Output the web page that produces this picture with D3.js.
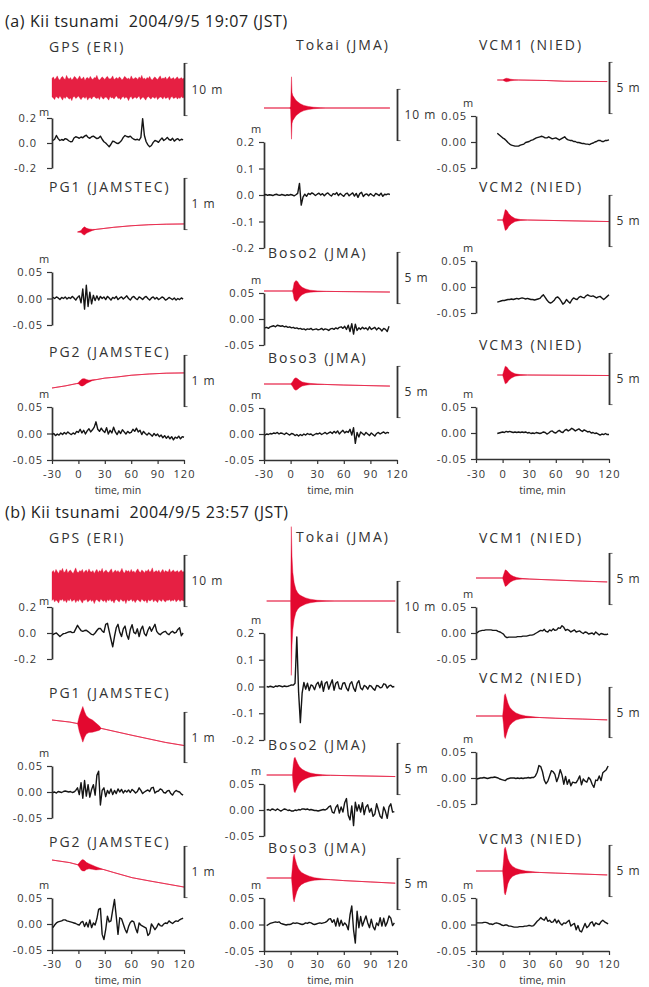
<!DOCTYPE html>
<html><head><meta charset="utf-8">
<script src="https://cdn.jsdelivr.net/npm/d3@7"></script>
<style>
body{margin:0;background:#fff}
svg{display:block}
text{font-family:"Open Sans",sans-serif;fill:#333}
.sec{font-size:16px;letter-spacing:0.6px;fill:#222;white-space:pre}
.ttl{font-size:14px;letter-spacing:2px}
.unit{font-size:11px}
.barlab{font-size:12px;letter-spacing:1px}
.xlab{font-size:10.5px}
.tick text{font-size:11px;letter-spacing:1px;fill:#333}
</style></head>
<body><svg id="c" width="649" height="987"></svg>
<script>
// ---------------- DATA ----------------
const sectionTitles = ["(a) Kii tsunami  2004/9/5 19:07 (JST)", "(b) Kii tsunami  2004/9/5 23:57 (JST)"];
const stationNames = ["GPS (ERI)","PG1 (JAMSTEC)","PG2 (JAMSTEC)","Tokai (JMA)","Boso2 (JMA)","Boso3 (JMA)","VCM1 (NIED)","VCM2 (NIED)","VCM3 (NIED)"];
const barValues = [10,1,1,10,5,5,5,5,5];          // scale-bar size, m
const barLabels = ["10 m","1 m","1 m","10 m","5 m","5 m","5 m","5 m","5 m"];
const timeTicks = [-30,0,30,60,90,120];
const gpsTicks = [-0.2,0,0.2];
const tokaiTicks = [-0.2,-0.1,0,0.1,0.2];
const smallTicks = [-0.05,0,0.05];
const sampleStep = 2;                                // min, black traces
const aBlackStart = [-29,-29,-30,-30,-29,-29,-6,-6,-6];
const bBlackStart = [-29,-29,-29,-27,-27,-27,-29,-29,-29];

// black (filtered) traces, mm
const aGps = [20,30,60,35,20,28,22,35,30,18,10,12,40,50,45,38,48,42,55,62,45,38,50,55,45,35,40,55,30,10,0,-15,-30,-10,15,10,0,-5,5,20,45,60,52,48,55,40,30,25,30,22,45,195,60,10,-15,-30,-20,5,20,15,5,25,40,20,30,45,28,22,38,15,28,35,20,30,25];
const aPg1 = [2,0,3,1,-2,2,0,3,-1,2,0,4,1,-3,2,5,-8,18,-20,25,-15,12,-10,6,-4,5,-3,4,0,3,-2,4,1,-3,2,0,4,-2,1,3,-1,2,5,0,-3,2,4,0,-2,3,1,-2,2,4,0,-3,1,3,-1,2,-2,0,3,1,-3,-1,2,0,-2,1,-3,0,-2,1,-1];
const aPg2 = [-2,0,-4,-1,-3,1,-2,2,-1,3,0,-2,1,-1,4,2,8,1,6,-1,5,9,3,7,12,22,8,4,10,5,2,11,-1,6,1,12,3,-2,5,0,7,3,-1,4,1,2,8,4,10,3,6,-2,4,0,-3,1,-2,-5,0,-4,-1,-6,-3,-8,-4,-9,-5,-10,-6,-12,-7,-9,-5,-10,-6,-7];
const aTokai = [0,2,-1,1,0,-2,1,3,0,-1,2,0,-2,1,-1,2,0,-3,1,6,44,-38,-8,3,-5,6,2,8,4,-2,3,7,0,5,-3,4,8,1,-4,5,2,9,-2,6,0,-5,4,7,-3,3,8,-4,6,-9,5,10,-6,2,4,-3,5,0,-4,6,2,-2,7,-5,3,1,4,2];
const aBoso2 = [-17,-16,-18,-15,-14,-13,-15,-12,-13,-14,-13,-15,-14,-16,-15,-17,-16,-18,-17,-19,-18,-20,-19,-21,-19,-20,-18,-21,-20,-19,-21,-20,-18,-21,-19,-20,-22,-19,-18,-20,-17,-19,-16,-15,-18,-14,-20,-12,-24,-9,-29,-10,-22,-17,-20,-16,-19,-17,-21,-15,-20,-18,-16,-21,-17,-19,-23,-18,-20,-24,-14];
const aBoso3 = [-2,0,-1,1,0,2,1,3,0,2,1,-1,2,0,-2,1,0,-3,-1,-4,-1,-3,0,-2,1,-1,0,-3,-1,1,0,2,-1,1,3,0,2,4,1,5,2,6,0,4,7,2,5,3,9,-2,12,-18,3,-6,4,1,-2,3,0,-3,2,-1,-4,1,3,0,2,4,1,3,2];
const aVcm1 = [17,14,11,8,6,3,-1,-4,-6,-7,-8,-8,-8,-6,-5,-4,-1,0,1,3,4,6,8,9,10,11,10,8,8,10,8,6,7,8,6,4,6,8,10,6,4,3,3,1,1,-1,-1,-2,-3,-3,-4,-4,-5,-3,-2,0,1,3,3,1,1,3,3,4];
const aVcm2 = [-29,-28,-27,-26,-26,-25,-24,-24,-23,-24,-23,-22,-23,-22,-21,-22,-23,-22,-23,-24,-24,-25,-24,-23,-22,-18,-15,-20,-25,-29,-31,-29,-26,-21,-19,-22,-27,-33,-30,-24,-28,-31,-25,-21,-23,-24,-20,-18,-20,-21,-17,-15,-17,-18,-17,-19,-21,-19,-18,-21,-24,-21,-18,-15];
const aVcm3 = [-1,0,1,2,1,3,2,3,2,1,2,1,2,1,2,1,2,0,1,-1,0,-1,1,0,-1,0,2,1,-2,0,3,4,1,0,3,5,2,1,5,7,4,6,9,7,4,6,8,5,3,6,4,2,3,0,1,-1,0,-2,-4,-2,-3,-1,-3,-3];
const bGps = [-13,-5,0,-13,-27,-16,-5,-3,3,8,11,3,5,32,59,37,19,13,19,21,11,0,-11,-13,0,19,35,35,16,5,67,75,13,-48,-107,-27,40,67,5,-27,32,53,-13,-48,27,64,5,-5,32,-27,27,53,-5,-21,21,48,13,40,67,13,-5,-13,0,8,13,-5,-13,5,13,0,5,27,40,-21,0];
const bPg1 = [-1,0,-2,1,0,-1,1,2,1,0,1,-1,0,3,8,-5,18,-12,22,-8,14,-10,5,14,-6,32,40,-25,3,8,-9,3,-3,6,-5,3,-3,6,0,5,-2,3,0,4,-1,5,2,-2,1,8,3,-3,0,2,4,1,8,9,-2,1,2,6,4,-1,-2,2,3,-3,-6,0,3,1,0,-4,-6];
const bPg2 = [-7,-2,2,4,5,6,8,8,6,5,4,3,2,1,-1,-2,3,5,-5,3,-6,8,-7,2,-2,10,28,30,-20,-30,-11,15,4,6,27,47,15,-20,12,10,0,-10,-17,-5,3,6,4,-8,-17,2,-2,-4,-6,-8,-22,-18,0,-5,-11,-6,1,-3,-4,0,2,1,6,3,1,4,6,5,8,10,11];
const bTokai = [0,-2,1,-1,-3,2,0,3,1,-1,2,0,1,3,6,5,12,185,-20,-135,-25,15,-10,12,-15,6,2,-12,8,16,-5,20,-18,12,18,-10,8,25,-14,12,18,-8,-10,12,14,-6,-16,10,18,-6,-18,12,22,-6,-12,4,0,-10,4,1,-8,-14,4,2,-5,-3,10,8,-6,2,5,-2,0];
const bBoso2 = [0,1,-1,2,1,-1,2,0,-2,0,2,1,-1,0,-2,-2,0,-1,1,0,2,2,1,2,0,1,0,-1,-1,-2,-1,0,1,0,2,6,8,-4,-6,5,10,-6,6,-4,14,22,-10,-19,8,-30,15,-2,10,-4,14,-9,6,10,-4,3,-12,-8,12,0,-12,-16,6,-3,-16,6,12,-4,-3];
const bBoso3 = [-2,0,2,3,4,5,4,5,2,1,0,-1,0,0,1,3,2,3,2,1,0,1,3,2,4,3,1,0,1,2,3,2,3,4,6,10,11,4,9,-3,12,-3,8,-2,3,-1,-10,18,35,-10,-35,25,-6,15,-3,7,16,3,-6,10,-4,-10,3,-2,13,-3,12,-3,4,16,12,-2,3];
const bVcm1 = [0,3,4,5,5,6,6,6,6,5,5,5,3,2,0,-2,-7,-9,-8,-8,-8,-8,-8,-7,-7,-7,-6,-6,-6,-5,-4,-4,-3,-1,1,3,5,4,7,3,2,6,4,8,5,6,10,9,14,11,5,7,5,2,4,6,2,3,4,1,-1,2,1,-2,-1,0,-3,2,-1,-4,-1,-2,-3,-3,-2];
const bVcm2 = [-2,-1,0,0,1,0,-1,0,1,1,2,1,0,-2,-3,-4,-5,-2,-1,0,0,0,-1,0,-1,0,-1,0,0,1,0,1,1,4,11,24,22,12,-4,-11,-6,4,14,12,7,-7,2,16,6,-12,3,-12,-3,-15,-8,-9,-9,-3,4,-13,-2,-6,-8,1,-3,-12,-18,-4,-5,4,-5,10,13,16,23];
const bVcm3 = [3,3,3,3,4,4,3,1,1,0,2,3,2,1,-1,-2,-1,-1,-3,-3,-4,-5,-5,-5,-4,-4,-4,-3,-3,-2,-2,-3,-2,2,6,9,13,10,8,14,6,8,4,5,10,3,8,2,-1,3,2,5,8,-3,0,2,-10,-2,-12,-14,-6,2,-6,-3,3,5,-3,3,1,0,5,8,5,3,1];

// red (raw) traces: GPS noise band (upper / lower excursion, m, every 1.5 min from -30)
const gpsBandStep = 1.5;
const aGpsUp = [1.8,2.1,1.6,1.9,2.3,1.7,1.5,2.0,2.2,1.8,1.6,2.4,1.9,1.7,2.0,1.5,1.8,2.2,2.0,1.6,1.9,2.3,1.7,1.8,2.1,1.4,1.9,2.0,1.7,2.2,1.8,1.6,2.0,1.9,2.4,1.7,1.5,1.8,2.1,1.9,1.6,2.0,2.2,1.8,1.7,1.9,2.3,1.6,1.8,2.0,1.7,2.1,1.9,1.5,1.8,2.2,2.0,1.7,1.9,1.6,2.3,1.8,1.7,2.0,1.9,1.6,2.1,1.8,2.4,1.7,1.9,1.6,2.0,1.8,2.2,1.7,1.5,1.9,2.1,1.8,1.6,2.0,2.3,1.7,1.9,1.8,2.1,1.6,1.9,2.2,1.7,1.8,2.0,1.6,1.9,2.1,1.7,1.8,2.0,1.7,1.9];
const aGpsLo = [1.7,1.9,2.2,1.6,1.8,2.0,1.5,1.9,2.3,1.7,2.0,1.6,1.8,2.1,1.9,2.4,1.7,1.6,2.0,1.8,1.5,1.9,2.2,1.8,1.7,2.0,1.6,2.3,1.9,1.8,2.1,1.7,1.6,1.9,2.0,1.8,2.2,1.5,1.9,2.1,1.8,1.7,2.0,2.3,1.6,1.9,1.8,2.1,1.7,1.5,2.0,1.9,2.2,1.8,1.6,2.0,1.7,1.9,2.4,1.8,1.6,2.1,1.9,1.7,2.0,1.8,1.5,2.2,1.9,1.7,2.0,2.3,1.8,1.6,1.9,2.1,1.7,1.8,2.0,1.6,2.2,1.9,1.7,1.8,2.1,1.6,2.0,1.9,1.7,2.3,1.8,1.6,2.0,1.9,1.7,2.1,1.8,2.0,1.6,1.9,1.8];
const bGpsUp = [2.7,3.0,2.5,3.2,2.8,2.4,3.1,2.9,3.4,2.6,2.8,3.3,2.5,2.9,3.1,2.7,2.4,3.0,3.5,2.7,2.6,3.0,2.8,3.2,2.5,2.9,3.1,2.6,3.3,2.8,2.7,3.0,2.4,2.9,3.2,2.6,3.0,2.8,3.4,2.5,2.9,3.1,2.7,2.6,3.0,3.3,2.5,2.8,3.1,2.7,3.0,2.6,2.9,3.4,2.7,2.5,3.1,2.8,3.0,2.6,3.2,2.7,2.9,2.5,3.0,3.3,2.8,2.6,3.1,2.9,2.5,3.0,2.8,3.2,2.7,2.9,3.5,2.6,2.8,3.0,2.7,3.1,2.5,2.9,3.2,2.6,3.0,2.8,2.7,3.3,2.6,2.9,3.1,2.7,2.8,3.0,2.6,2.9,3.1,2.7,2.8];
const bGpsLo = [2.8,2.5,3.1,2.7,2.9,3.3,2.6,2.8,2.5,3.0,2.7,3.2,2.6,2.9,2.4,3.0,2.8,2.6,3.2,2.7,3.0,2.5,2.9,3.3,2.7,2.8,2.5,3.1,2.9,2.6,3.0,2.7,3.4,2.8,2.6,2.9,3.1,2.5,2.8,3.0,2.7,3.2,2.6,2.9,2.5,3.0,2.8,3.3,2.7,2.6,2.9,3.1,2.5,2.8,3.0,2.7,3.4,2.6,2.9,2.8,2.5,3.0,2.7,3.2,2.8,2.6,2.9,3.1,2.5,2.8,3.0,2.7,3.3,2.6,2.9,2.8,2.5,3.1,2.7,2.9,3.2,2.6,2.8,3.0,2.5,2.9,3.1,2.7,2.8,2.6,3.0,2.7,2.9,2.5,3.1,2.8,2.6,3.0,2.7,2.8,2.9];
// other red traces: time (min), centre level (m), half envelope (m)
const aPg1T = [-1,3,5,7,9,12,16,20,40,60,80,100,120];
const aPg1C = [0,0.01,0.015,0.02,0.025,0.03,0.04,0.05,0.09,0.12,0.14,0.15,0.155];
const aPg1A = [0,0.02,0.06,0.08,0.05,0.03,0.01,0,0,0,0,0,0];
const aPg2T = [-30,-15,-2,0,1,3,5,7,9,12,16,20,30,43,60,81,100,120];
const aPg2C = [0,0.04,0.085,0.09,0.095,0.1,0.11,0.12,0.125,0.13,0.15,0.16,0.19,0.21,0.245,0.27,0.285,0.29];
const aPg2A = [0,0,0,0.01,0.03,0.06,0.07,0.06,0.04,0.02,0.008,0,0,0,0,0,0,0];
const aTokaiT = [-30,-1,0,1,1.6,2.5,4,6,8,11,15,20,26,34,40,112];
const aTokaiC = [0,0,0,0,0,0,0,0,0,0,0,0,0,0,0,0];
const aTokaiA = [0,0,0.3,6.0,3.0,2.4,2.0,1.5,1.2,0.8,0.5,0.3,0.15,0.05,0,0];
const aBoso2T = [-30,2,3,4,6,8,10,13,17,22,30,40,112];
const aBoso2C = [0,0,0,0,0,0,0,0,0,-0.02,-0.03,-0.04,-0.1];
const aBoso2A = [0,0,0.3,0.8,1.0,0.9,0.6,0.35,0.2,0.1,0.04,0,0];
const aBoso3T = [-30,0,2,4,6,8,10,13,17,22,30,38,60,112];
const aBoso3C = [0,0,0,0,0,0,0,0,0,0,-0.02,-0.04,-0.1,-0.2];
const aBoso3A = [0,0,0.2,0.5,0.6,0.5,0.35,0.2,0.12,0.06,0.02,0,0,0];
const aVcm1T = [-6,0,2,4,6,9,13,18,50,70,118];
const aVcm1C = [0,0,0,0,0,0,0,0,-0.05,-0.12,-0.15];
const aVcm1A = [0,0,0.1,0.17,0.15,0.08,0.03,0,0,0,0];
const aVcm2T = [-6,0,1,3,5,7,10,14,20,28,120];
const aVcm2C = [0,0,0,0,0,0,0,0,0,0,-0.15];
const aVcm2A = [0,0,0.3,1.0,0.9,0.6,0.35,0.15,0.05,0,0];
const aVcm3T = [-6,0,1,3,5,7,10,14,20,28,120];
const aVcm3C = [0,0,0,0,0,0,0,0,0,0,-0.05];
const aVcm3A = [0,0,0.3,0.85,0.75,0.5,0.3,0.12,0.04,0,0];
const bPg1T = [-30,-10,-1,1,3,5,7,9,12,16,20,24,26,61,99,120];
const bPg1C = [0,-0.04,-0.07,-0.075,-0.08,-0.085,-0.09,-0.095,-0.105,-0.12,-0.14,-0.16,-0.165,-0.30,-0.44,-0.5];
const bPg1A = [0,0,0,0.15,0.25,0.35,0.25,0.18,0.14,0.12,0.08,0.04,0,0,0,0];
const bPg2T = [-30,-10,-1,1,3,5,7,9,12,16,20,24,28,40,61,80,100,120];
const bPg2C = [0,-0.05,-0.09,-0.095,-0.1,-0.1,-0.11,-0.115,-0.12,-0.14,-0.16,-0.17,-0.18,-0.24,-0.34,-0.4,-0.46,-0.52];
const bPg2A = [0,0,0,0.04,0.09,0.11,0.1,0.07,0.05,0.04,0.03,0.015,0,0,0,0,0,0];
const bTokaiT = [-27,0,0.8,1.6,2.5,4,6,8,10,13,17,22,30,40,50,118];
const bTokaiC = [0,0,0,0,0,0,0,0,0,0,0,0,0,0,0,0];
const bTokaiA = [0,0,14.3,8.5,5.5,3.5,2.2,1.6,1.2,0.9,0.6,0.35,0.15,0.05,0,0];
const bBoso2T = [-27,2,3,4,5,6,8,10,13,17,22,28,36,45,118];
const bBoso2C = [0,0,0,0,0,0,0,0,0,0,0,-0.01,-0.02,-0.03,-0.15];
const bBoso2A = [0,0,1.0,1.6,1.7,1.5,1.1,0.8,0.55,0.35,0.2,0.1,0.04,0,0];
const bBoso3T = [-27,1,2,3,4,5,7,9,12,16,21,27,35,45,60,90,118];
const bBoso3C = [0,0,0,-0.01,-0.01,-0.02,-0.02,-0.03,-0.04,-0.05,-0.07,-0.09,-0.12,-0.16,-0.25,-0.38,-0.5];
const bBoso3A = [0,0,1.0,2.0,2.3,1.9,1.3,0.9,0.6,0.4,0.25,0.12,0.05,0,0,0,0];
const bVcm1T = [-30,0,1,3,5,7,9,12,16,22,30,60,90,118];
const bVcm1C = [0,0,0,-0.01,-0.01,-0.02,-0.03,-0.04,-0.05,-0.07,-0.1,-0.2,-0.3,-0.38];
const bVcm1A = [0,0,0.3,0.8,0.7,0.5,0.35,0.2,0.1,0.03,0,0,0,0];
const bVcm2T = [-30,0,1,2,3,4,6,8,11,15,20,26,34,42,60,90,118];
const bVcm2C = [0,0,0,0,-0.01,-0.01,-0.02,-0.03,-0.04,-0.05,-0.07,-0.09,-0.12,-0.15,-0.22,-0.3,-0.38];
const bVcm2A = [0,0,0.8,2.0,2.2,1.9,1.3,0.9,0.6,0.35,0.2,0.1,0.04,0,0,0,0];
const bVcm3T = [-30,0,1,2,3,4,6,8,11,15,20,26,34,42,60,118];
const bVcm3C = [0,0,0,0,-0.01,-0.01,-0.02,-0.03,-0.04,-0.05,-0.07,-0.09,-0.11,-0.14,-0.2,-0.38];
const bVcm3A = [0,0,0.9,2.1,2.3,2.0,1.2,0.8,0.5,0.3,0.18,0.1,0.04,0,0,0];

// ---------------- LAYOUT (positions only) ----------------
const colX = [[52,184],[264,397],[476,609]];
const secTitleY = [27, 518];
const xLabelY = [478, 968];
const xTitleY = [494, 984];
const titleXs = [49,49,49,296,268,268,479,479,479];
// per station: title baseline, bar top, bar bottom, red zero level, axis top, axis bottom
const layoutA = [
  [52,63,116,88,118,168],[192,178,230,232,272,325],[357,355,407,388,407,460],
  [50,89,141,108,142,248],[258,252,304,291,293,345],[363,366,418,384,408,460],
  [50,62,114,80,116,168],[192,195,247,220,261,313],[350,353,405,375,407,459]];
const layoutB = [
  [543,555,607,586,607,659],[698,712,763,720,766,818],[847,846,898,860,898,950],
  [542,581,633,601,633,740],[750,743,795,775,784,836],[853,858,910,878,898,951],
  [543,553,605,578,607,659],[683,687,738,716,752,804],[844,845,897,871,898,951]];

const RED = "#e3082f", INK = "#151515", AX = "#333";
const loc = d3.formatLocale({decimal:".",thousands:",",grouping:[3],currency:["",""],minus:"-"});
const svg = d3.select("#c");

const sections = [
  {black:[aGps,aPg1,aPg2,aTokai,aBoso2,aBoso3,aVcm1,aVcm2,aVcm3], start:aBlackStart,
   band:[aGpsUp,aGpsLo],
   red:[null,[aPg1T,aPg1C,aPg1A],[aPg2T,aPg2C,aPg2A],[aTokaiT,aTokaiC,aTokaiA],[aBoso2T,aBoso2C,aBoso2A],[aBoso3T,aBoso3C,aBoso3A],[aVcm1T,aVcm1C,aVcm1A],[aVcm2T,aVcm2C,aVcm2A],[aVcm3T,aVcm3C,aVcm3A]],
   layout:layoutA},
  {black:[bGps,bPg1,bPg2,bTokai,bBoso2,bBoso3,bVcm1,bVcm2,bVcm3], start:bBlackStart,
   band:[bGpsUp,bGpsLo],
   red:[null,[bPg1T,bPg1C,bPg1A],[bPg2T,bPg2C,bPg2A],[bTokaiT,bTokaiC,bTokaiA],[bBoso2T,bBoso2C,bBoso2A],[bBoso3T,bBoso3C,bBoso3A],[bVcm1T,bVcm1C,bVcm1A],[bVcm2T,bVcm2C,bVcm2A],[bVcm3T,bVcm3C,bVcm3A]],
   layout:layoutB}
];

sections.forEach((S, si) => {
  svg.append("text").attr("class","sec").attr("x",5).attr("y",secTitleY[si]).text(sectionTitles[si]);
  stationNames.forEach((name, k) => {
    const col = Math.floor(k/3), row = k%3;
    const [x0,x1] = colX[col];
    const [tY, bT, bB, rY, aT, aB] = S.layout[k];
    const x = d3.scaleLinear().domain([timeTicks[0], timeTicks[timeTicks.length-1]]).range([x0,x1]);
    const g = svg.append("g");
    g.append("text").attr("class","ttl").attr("x",titleXs[k]).attr("y",tY).text(name);

    // red raw trace
    const ry = d3.scaleLinear().domain([0, barValues[k]]).range([rY, rY-(bB-bT)]);
    if (k === 0) {
      const up = S.band[0], lo = S.band[1];
      const pts = up.map((u,i)=>({t: timeTicks[0]+i*gpsBandStep, up:u, lo:lo[i]}));
      g.append("path").datum(pts).attr("fill",RED).attr("fill-opacity",0.9)
        .attr("stroke",RED).attr("stroke-width",0.4).attr("stroke-opacity",0.7)
        .attr("d", d3.area().x(d=>x(d.t)).y0(d=>ry(-d.lo)).y1(d=>ry(d.up)));
    } else {
      const [T,C,A] = S.red[k];
      const pts = T.map((t,i)=>({t, c:C[i], a:A[i]}));
      g.append("path").datum(pts).attr("fill","none").attr("stroke",RED)
        .attr("stroke-width",0.8).attr("stroke-opacity",0.7)
        .attr("d", d3.line().x(d=>x(d.t)).y(d=>ry(d.c)));
      g.append("path").datum(pts).attr("fill",RED).attr("stroke",RED).attr("stroke-width",0.4)
        .attr("d", d3.area().x(d=>x(d.t)).y0(d=>ry(d.c-d.a)).y1(d=>ry(d.c+d.a)));
    }
    // scale bar
    const bx = x1 + 0.5;
    g.append("path").attr("fill","none").attr("stroke",AX).attr("stroke-width",1.8)
      .attr("d", `M${bx},${bT}V${bT+(ry(0)-ry(barValues[k]))}`);
    g.append("path").attr("fill","none").attr("stroke",AX).attr("stroke-width",0.7)
      .attr("d", `M${bx},${bT+0.4}h3M${bx},${bB-0.4}h3`);
    g.append("text").attr("class","barlab").attr("x",bx+7).attr("y",(bT+bB)/2+4).text(barLabels[k]);

    // black filtered trace with axis
    const dom = (k===0||k===3) ? [-0.2,0.2] : [-0.05,0.05];
    const ticks = (k===0) ? gpsTicks : (k===3 ? tokaiTicks : smallTicks);
    const y = d3.scaleLinear().domain(dom).range([aB, aT]);
    const fmt = loc.format((k===0||k===3) ? ".1f" : ".2f");
    const ax = g.append("g").attr("transform",`translate(${x0},0)`)
      .call(d3.axisLeft(y).tickValues(ticks).tickFormat(fmt).tickSize(5).tickSizeOuter(0).tickPadding(k===0?10:4));
    ax.select(".domain").attr("stroke",AX).attr("stroke-width",1.7);
    ax.selectAll(".tick line").attr("stroke",AX).attr("stroke-width",1.2);
    g.append("text").attr("class","unit").attr("x",x0-8).attr("y",aT-(k===0?2:9)).attr("text-anchor","middle").text("m");

    const vals = S.black[k], t0 = S.start[k];
    g.append("path").datum(vals).attr("fill","none").attr("stroke",INK).attr("stroke-width",1.4)
      .attr("stroke-linejoin","round")
      .attr("d", d3.line().x((d,i)=>x(t0+i*sampleStep)).y(d=>y(d/1000)));

    if (row === 2) {
      const xa = g.append("g").attr("transform",`translate(0,${aB})`)
        .call(d3.axisBottom(x).tickValues(timeTicks).tickFormat(loc.format("d")).tickSize(4).tickSizeOuter(0).tickPadding(4));
      xa.select(".domain").attr("stroke",AX).attr("stroke-width",1.7);
      xa.selectAll(".tick line").attr("stroke",AX).attr("stroke-width",1.2);
      xa.selectAll(".tick text").attr("dy",null).attr("y", xLabelY[si]-aB);
      g.append("text").attr("class","xlab").attr("x",(x0+x1)/2).attr("y",xTitleY[si])
        .attr("text-anchor","middle").text("time, min");
    }
  });
});
</script>
</body></html>
